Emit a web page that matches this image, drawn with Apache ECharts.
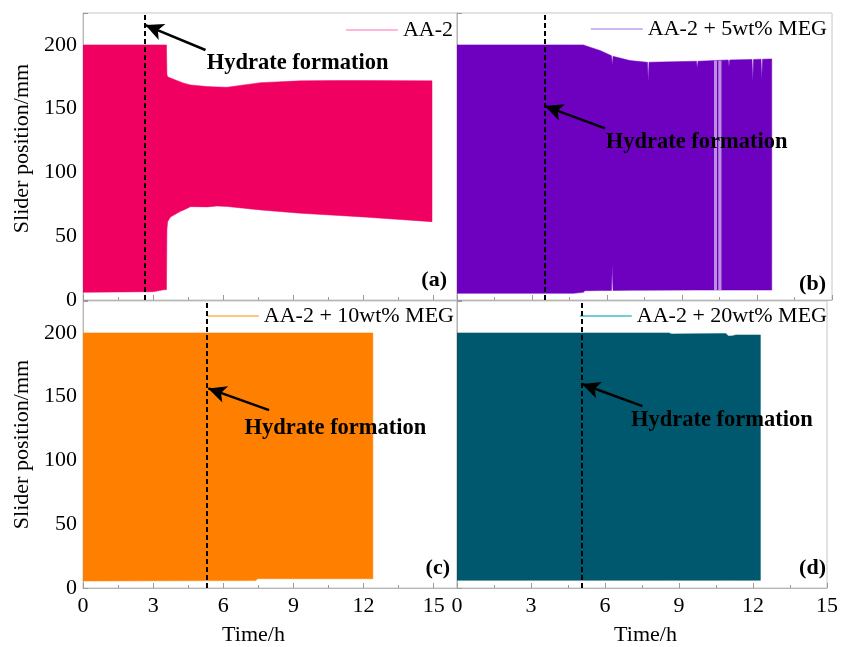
<!DOCTYPE html>
<html><head><meta charset="utf-8">
<script src="https://cdn.jsdelivr.net/npm/echarts@6/dist/echarts.min.js"></script>
<style>html,body{margin:0;padding:0;background:#fff}#c{width:841px;height:647px}</style>
</head><body><div id="c"></div>
<script>
// ---- data ----
// Each trace oscillates so densely that it appears as a band between a lower and upper envelope.
const seriesNames = ['AA-2', 'AA-2 + 5wt% MEG', 'AA-2 + 10wt% MEG', 'AA-2 + 20wt% MEG'];
const panelLabels = ['(a)', '(b)', '(c)', '(d)'];

const timeA  = [0, 3.0, 3.45, 3.57, 3.59, 3.62, 3.74, 4.17, 4.31, 4.6, 5.31, 5.74, 6.17, 7.6, 9.31, 10.74, 12.17, 14.93];
const upperA = [200, 200, 200, 200, 177, 175, 174, 171, 170, 168.6, 167.3, 167, 166.8, 170.4, 171.8, 172, 172, 171.8];
const lowerA = [6, 6.5, 8, 8, 55, 61.4, 65, 69.5, 70.6, 73.2, 73, 73.7, 73.3, 70.6, 68, 66.5, 64.9, 61.4];

const timeB  = [0, 4.65, 5.05, 5.12, 5.32, 5.72, 6.18, 6.21, 6.24, 6.92, 7.59, 7.62, 7.65, 7.68, 9.58, 9.61, 9.64, 10.85, 10.88, 10.91, 11.8, 11.83, 11.86, 12.16, 12.19, 12.22, 12.59];
const upperB = [200, 200, 200, 199.5, 198.2, 195.6, 191.5, 184, 191, 187.7, 186.4, 186.4, 171, 186.4, 187.2, 181.7, 187.2, 188.2, 183, 188.2, 188.6, 171, 188.6, 188.8, 172.5, 188.8, 189];
const lowerB = [5.2, 5.2, 6, 7.3, 7.3, 7.4, 7.4, 27.5, 7.5, 7.6, 7.7, 7.7, 7.7, 7.7, 7.8, 7.8, 7.8, 7.8, 7.8, 7.8, 7.8, 7.8, 7.8, 7.8, 7.8, 7.8, 7.8];

const timeC  = [0, 7.4, 7.46, 12.4];
const upperC = [200, 200, 200, 200];
const lowerC = [5.5, 5.8, 7.3, 7.2];

const timeD  = [0, 8.6, 8.7, 10.9, 11.0, 11.15, 11.3, 12.3];
const upperD = [200, 200, 199.2, 199.5, 197.6, 197.6, 198.4, 198.4];
const lowerD = [6, 6, 6, 6, 6, 6, 6, 6];

// time of hydrate formation (dashed lines), h
const hydrateTimes = [2.65, 3.49, 5.31, 5.04];
// lighter (faded) bands in panel (b), h
const fadedBandsB = [[10.28, 10.4], [10.45, 10.58]];

// ---- annotation placement (data coords) ----
const arrowTail = [[5.24, 196], [5.92, 134.6], [7.96, 139.5], [7.52, 142.6]];
const arrowHead = [[2.67, 215.5], [3.52, 152], [5.36, 156.5], [5.07, 159.9]];
const textAnchor = [[5.29, 186], [5.95, 123.4], [6.91, 125.1], [7.05, 131.6]];

const panels = [
  {t: timeA, up: upperA, lo: lowerA, faded: []},
  {t: timeB, up: upperB, lo: lowerB, faded: fadedBandsB},
  {t: timeC, up: upperC, lo: lowerC, faded: []},
  {t: timeD, up: upperD, lo: lowerD, faded: []}
];

// ---- styles ----
const FONT = 'Liberation Serif';
const fills = ['#f00060', '#6e00c0', '#ff7f00', '#00586f'];
const legendColors = ['#ff9fd0', '#c49cf2', '#ffb347', '#45bccb'];
const gridBoxes = [
  {left: 83, top: 13, width: 374, height: 287},
  {left: 457, top: 13, width: 375, height: 287},
  {left: 83, top: 301, width: 374, height: 287},
  {left: 457, top: 301, width: 375, height: 287}
];
const axisGray = '#b8b8b8';
const tickGray = '#9a9a9a';

const chart = echarts.init(document.getElementById('c'), null, {renderer: 'canvas'});

const grid = gridBoxes.map(g => Object.assign({show: true, borderColor: '#c6c6c6', borderWidth: 1, backgroundColor: 'transparent'}, g));

const xAxis = gridBoxes.map((g, i) => ({
  gridIndex: i, type: 'value', min: 0, max: i % 2 === 0 ? 16 : 15, interval: 3,
  axisLine: {lineStyle: {color: axisGray}},
  axisTick: {inside: true, length: 5, lineStyle: {color: tickGray}},
  minorTick: {show: true, splitNumber: 2, length: 3, lineStyle: {color: tickGray}},
  splitLine: {show: false},
  axisLabel: {show: i >= 2, margin: 7, fontFamily: FONT, fontSize: 22, color: '#000', showMaxLabel: i % 2 === 1, showMinLabel: true},
  name: i >= 2 ? 'Time/h' : '', nameLocation: 'middle', nameGap: 36,
  nameTextStyle: {fontFamily: FONT, fontSize: 22, color: '#000', padding: i === 2 ? [0, 33, 0, 0] : [0, 0, 0, 7]}
}));

const yAxis = gridBoxes.map((g, i) => ({
  gridIndex: i, type: 'value', min: 0, max: 225, interval: 50,
  axisLine: {lineStyle: {color: axisGray}},
  axisTick: {inside: true, length: 5, lineStyle: {color: tickGray}},
  minorTick: {show: true, splitNumber: 2, length: 3, lineStyle: {color: tickGray}},
  splitLine: {show: false},
  axisLabel: {show: i % 2 === 0, margin: 6, fontFamily: FONT, fontSize: 22, color: '#000', showMaxLabel: false},
  name: i % 2 === 0 ? 'Slider position/mm' : '', nameLocation: 'middle', nameGap: 50,
  nameTextStyle: {fontFamily: FONT, fontSize: 22, color: '#000', padding: i === 0 ? [0, 0, 0, 16] : [0, 0, 0, 0]}
}));

const series = [];
panels.forEach((p, i) => {
  series.push({
    type: 'custom', name: seriesNames[i], xAxisIndex: i, yAxisIndex: i,
    data: p.t.map((v, k) => [v, p.lo[k], p.up[k]]),
    encode: {x: 0, y: [1, 2]},
    itemStyle: {color: fills[i]},
    silent: true, z: 2, clip: true,
    renderItem: function (params, api) {
      if (params.dataIndex !== 0) return null;
      const pts = [];
      for (let k = 0; k < p.t.length; k++) pts.push(api.coord([p.t[k], p.up[k]]));
      for (let k = p.t.length - 1; k >= 0; k--) pts.push(api.coord([p.t[k], p.lo[k]]));
      const children = [{type: 'polygon', shape: {points: pts}, style: {fill: fills[i], stroke: fills[i], lineWidth: 0.5}}];
      p.faded.forEach(b => {
        const a = api.coord([b[0], 187.6]);
        const c = api.coord([b[1], 7.8]);
        children.push({type: 'rect', shape: {x: a[0], y: a[1], width: c[0] - a[0], height: c[1] - a[1]},
          style: {fill: 'rgba(255,255,255,0.55)'}});
      });
      return {type: 'group', children: children};
    }
  });
  series.push({
    type: 'line', name: 'ann' + i, xAxisIndex: i, yAxisIndex: i, data: [], silent: true, z: 5,
    markLine: {
      silent: true, animation: false, symbol: ['none', 'none'], label: {show: false},
      data: [
        {xAxis: hydrateTimes[i], lineStyle: {type: [5, 3], color: '#000', width: 2}},
        [
          {coord: arrowTail[i], symbol: 'none', lineStyle: {type: 'solid', color: '#000', width: 2.5}},
          {coord: arrowHead[i], symbol: 'arrow', symbolSize: [13, 18]}
        ]
      ]
    },
    markPoint: {
      silent: true, animation: false,
      data: [{
        coord: textAnchor[i], symbol: 'circle', symbolSize: 0,
        label: {show: true, position: 'right', distance: 0, formatter: 'Hydrate formation',
          fontFamily: FONT, fontWeight: 'bold', fontSize: 22.5, color: '#000'}
      }]
    }
  });
});

const legendRight = [388, 14, 387, 14];
const legendTop = [19, 18, 305, 305];
const legend = seriesNames.map((n, i) => ({
  data: [{name: n, itemStyle: {color: legendColors[i]}}],
  icon: 'rect', itemWidth: 52, itemHeight: 1.5, padding: 0, selectedMode: false,
  right: legendRight[i], top: legendTop[i],
  textStyle: {fontFamily: FONT, fontSize: 22, color: '#000'}
}));

const labelX = [447, 826, 450, 826];
const labelY = [280, 284, 568, 568];
const graphic = panelLabels.map((s, i) => ({
  type: 'text', x: labelX[i], y: labelY[i], z: 10,
  style: {text: s, fill: '#000', font: 'bold 22px "Liberation Serif"', align: 'right', verticalAlign: 'middle'}
}));

chart.setOption({
  animation: false,
  backgroundColor: '#fff',
  grid, xAxis, yAxis, series, legend, graphic
});
</script>
</body></html>
